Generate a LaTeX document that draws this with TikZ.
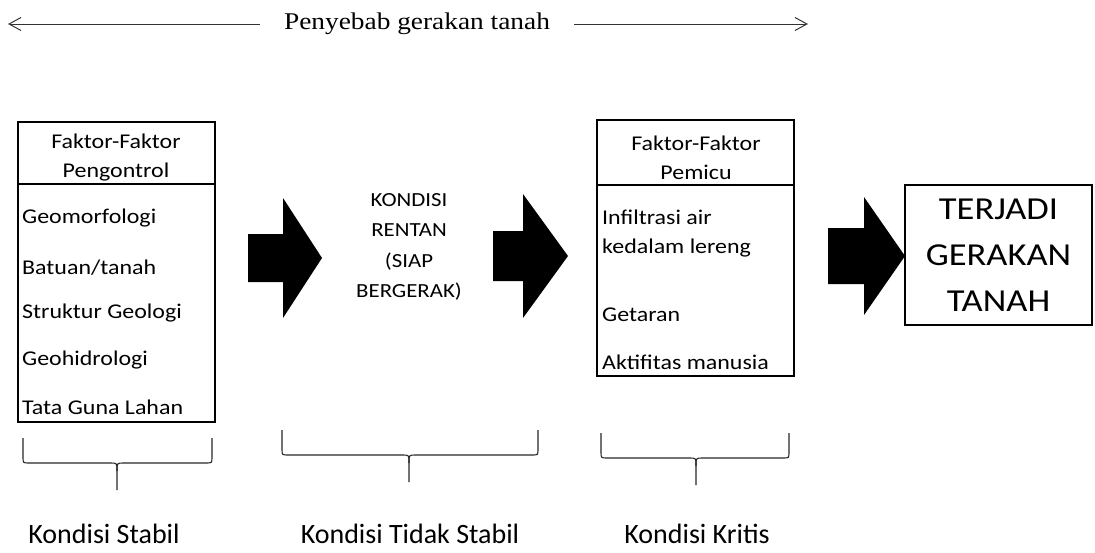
\documentclass[tikz,border=0pt]{standalone}
\usepackage{fontspec}
\setmainfont{Carlito}
\newfontfamily\lebar{Carlito}[FakeStretch=1.14]
\newfontfamily\judulfont{Liberation Serif}[FakeStretch=1.14]
\usetikzlibrary{arrows.meta}

\begin{document}
\begin{tikzpicture}
  [x=1pt,y=-1pt,
   kotak/.style={draw,line width=1.5pt,inner sep=0},
   isi/.style={anchor=west,inner sep=0,font=\lebar\fontsize{21}{29}\selectfont,align=left},
   kepala/.style={inner sep=0,font=\lebar\fontsize{21}{29}\selectfont,align=center},
   kurung/.style={draw=black!85,line width=1.1pt},
   label/.style={inner sep=0,font=\fontsize{28}{32}\selectfont}]
  \useasboundingbox (0,0) rectangle (1095,552);

  % judul dan panah atas
  \node[inner xsep=24,font=\judulfont\fontsize{24}{28}\selectfont] (judul) at (417,24) {Penyebab gerakan tanah};
  \coordinate (kiri) at (8,24);
  \coordinate (kanan) at (808,24);
  \draw[black!80,line width=1pt,-{Straight Barb[length=12pt,width=13pt]}] (judul.west) -- (kiri);
  \draw[black!80,line width=1pt,-{Straight Barb[length=12pt,width=13pt]}] (judul.east) -- (kanan);

  % faktor pengontrol
  \node[kotak,minimum width=197,minimum height=300] (pengontrol) at (116.5,272) {};
  \draw[line width=1.5pt] (pengontrol.west |- 0,184) -- (pengontrol.east |- 0,184);
  \node[kepala] (kepala1) at (116,157.5) {Faktor-Faktor\\Pengontrol};
  \foreach \teks/\y [count=\i] in {Geomorfologi/218,{Batuan/tanah}/268,{Struktur Geologi}/313,
      Geohidrologi/360,{Tata Guna Lahan}/407}
    \node[isi] (k\i) at (22,\y) {\teks};

  % kondisi rentan
  \node[kepala,font=\lebar\fontsize{20}{30.5}\selectfont] (rentan) at (409,247) {KONDISI\\RENTAN\\(SIAP\\BERGERAK)};

  % faktor pemicu
  \node[kotak,minimum width=197,minimum height=256] (pemicu) at (695.5,248) {};
  \draw[line width=1.5pt] (pemicu.west |- 0,185) -- (pemicu.east |- 0,185);
  \node[kepala] (kepala2) at (696,158) {Faktor-Faktor\\Pemicu};
  \node[isi] (m1) at (602,233.5) {Infiltrasi air\\kedalam lereng};
  \node[isi] (m2) at (602,315) {Getaran};
  \node[isi] (m3) at (602,362) {Aktifitas manusia};

  % hasil
  \node[kotak,minimum width=187,minimum height=140,align=center,
    font=\lebar\fontsize{32}{46}\selectfont] (terjadi) at (998.5,255) {TERJADI\\GERAKAN\\TANAH};

  % panah blok
  \foreach \a/\b/\c/\y/\s/\h in {248/283/322/258/24/60,493/523/568/256/25/62,828/864/905/256/28/59}
    \fill (\a,\y-\s) -- (\b,\y-\s) -- (\b,\y-\h) -- (\c,\y) -- (\b,\y+\h) -- (\b,\y+\s) -- (\a,\y+\s) -- cycle;

  % kurung kurawal
  \foreach \ki/\ka/\te/\at/\da/\ba in {23/212/117/438/463/490,282/538/409/430/455/482,601/789/696/433/458/485}{
    \draw[kurung] (\ki,\at) -- (\ki,\da-6) .. controls (\ki,\da) .. (\ki+6,\da) -- (\te-6,\da)
      .. controls (\te,\da) .. (\te,\da+8) -- (\te,\ba);
    \draw[kurung] (\ka,\at) -- (\ka,\da-6) .. controls (\ka,\da) .. (\ka-6,\da) -- (\te+6,\da)
      .. controls (\te,\da) .. (\te,\da+8);
  }

  \node[label] (stabil) at (104,534) {Kondisi Stabil};
  \node[label] (tidakstabil) at (410,534) {Kondisi Tidak Stabil};
  \node[label] (kritis) at (697,534) {Kondisi Kritis};

\end{tikzpicture}
\end{document}
